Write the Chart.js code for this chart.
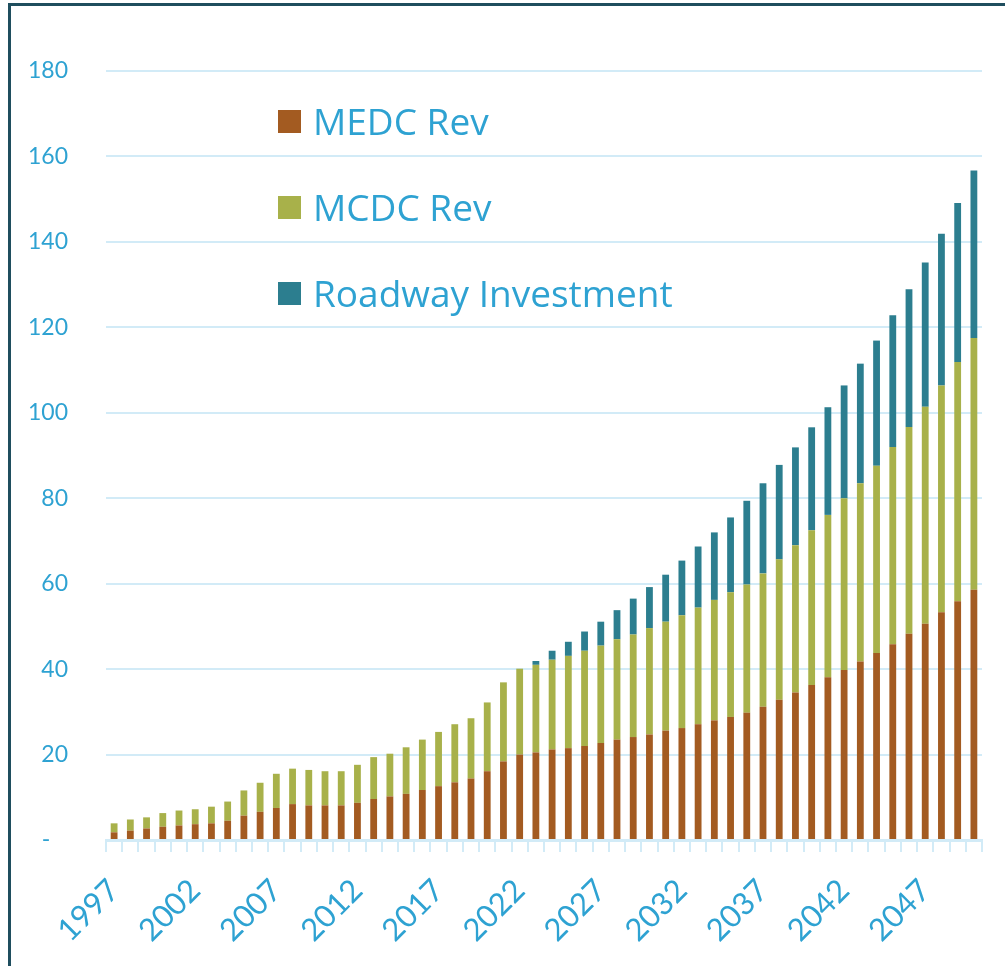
<!DOCTYPE html>
<html>
<head>
<meta charset="utf-8">
<title>Revenue Projection</title>
<script src="https://cdn.jsdelivr.net/npm/chart.js@4.4.0/dist/chart.umd.min.js"></script>
<style>
    html, body { margin: 0; padding: 0; background: #ffffff; }
    #wrap { position: relative; width: 1005px; height: 966px; overflow: hidden; }
    #frameTop { position: absolute; left: 8px; top: 3px; width: 1000px; height: 3px; background: #1f4e5e; }
    #frameLeft { position: absolute; left: 8px; top: 3px; width: 3px; height: 970px; background: #1f4e5e; }
    #legend { position: absolute; left: 278px; top: 95px; font-family: "Open Sans", Lato, sans-serif; }
    .item { position: absolute; left: 0; height: 40px; white-space: nowrap; display: flex; align-items: center; }
    .swatch { width: 23px; height: 23px; margin-right: 12px; }
    .label { font-size: 37px; color: #2ea2d2; line-height: 40px; }
</style>
</head>
<body>
<div id="wrap">
    <canvas id="revenueChart" width="1005" height="966"></canvas>
    <div id="frameTop"></div>
    <div id="frameLeft"></div>
    <div id="legend"></div>
</div>
<script>
// Years on the x axis
const years = [];
for (let y = 1997; y <= 2050; y++) years.push(String(y));

// Values (millions)
const medcRev = [1.8, 2.2, 2.7, 3.1, 3.4, 3.7, 3.9, 4.5, 5.7, 6.6,
    7.5, 8.4, 8.1, 8.1, 8.1, 8.7, 9.6, 10.2, 10.8, 11.7,
    12.6, 13.5, 14.4, 16.1, 18.4, 20.0, 20.5, 21.2, 21.5, 22.0,
    22.7, 23.5, 24.1, 24.7, 25.6, 26.2, 27.1, 28.0, 28.8, 29.8,
    31.2, 32.8, 34.5, 36.3, 38.1, 39.8, 41.8, 43.8, 45.8, 48.3,
    50.6, 53.3, 55.9, 58.6];

const mcdcRev = [2.1, 2.6, 2.6, 3.2, 3.5, 3.5, 3.9, 4.5, 5.9, 6.8,
    8.0, 8.3, 8.3, 8.0, 8.0, 8.9, 9.8, 10.0, 10.9, 11.8,
    12.7, 13.6, 14.1, 16.1, 18.5, 20.1, 20.5, 21.0, 21.6, 22.3,
    22.8, 23.5, 24.0, 24.9, 25.5, 26.4, 27.3, 28.2, 29.2, 30.0,
    31.2, 32.9, 34.5, 36.2, 38.0, 40.2, 41.7, 43.8, 46.2, 48.4,
    50.8, 53.1, 56.0, 58.9];

const roadwayInvestment = [0, 0, 0, 0, 0, 0, 0, 0, 0, 0,
    0, 0, 0, 0, 0, 0, 0, 0, 0, 0,
    0, 0, 0, 0, 0, 0, 0.9, 2.1, 3.3, 4.5,
    5.6, 6.8, 8.4, 9.6, 11.0, 12.8, 14.3, 15.8, 17.5, 19.6,
    21.1, 22.1, 22.9, 24.1, 25.2, 26.4, 28.0, 29.3, 30.8, 32.2,
    33.8, 35.5, 37.2, 39.2];

const yTicks = [0, 20, 40, 60, 80, 100, 120, 140, 160, 180];

const seriesNames = ['MEDC Rev', 'MCDC Rev', 'Roadway Investment'];
const seriesColors = ['#a35b21', '#a8b14a', '#2c7e8f'];

const textBlue = '#2ea2d2';
const gridBlue = '#d2ebf7';

document.addEventListener('DOMContentLoaded', function() {
    buildLegend();
    initRevenueChart();
});

// Legend sits inside the plot area, so it is plain html on top of the canvas
function buildLegend() {
    const legend = document.getElementById('legend');
    const rowTops = [6, 92, 178];
    seriesNames.forEach(function(name, i) {
        const item = document.createElement('div');
        item.className = 'item';
        item.style.top = rowTops[i] + 'px';
        item.innerHTML = '<span class="swatch" style="background:' + seriesColors[i] + '"></span>' +
            '<span class="label">' + name + '</span>';
        legend.appendChild(item);
    });
}

function initRevenueChart() {
    const ctx = document.getElementById('revenueChart').getContext('2d');

    const seriesData = [medcRev, mcdcRev, roadwayInvestment];

    window.revenueChart = new Chart(ctx, {
        type: 'bar',
        data: {
            labels: years,
            datasets: seriesData.map(function(values, i) {
                return {
                    label: seriesNames[i],
                    data: values,
                    backgroundColor: seriesColors[i],
                    borderWidth: 0,
                    barPercentage: 0.42,
                    categoryPercentage: 1.0
                };
            })
        },
        options: {
            responsive: false,
            animation: false,
            layout: {
                padding: { left: 8, right: 23, top: 71, bottom: 0 }
            },
            plugins: {
                legend: { display: false },
                tooltip: { enabled: false }
            },
            scales: {
                x: {
                    stacked: true,
                    offset: true,
                    grid: {
                        offset: true,
                        drawOnChartArea: false,
                        color: gridBlue,
                        lineWidth: 2,
                        tickLength: 12
                    },
                    border: { color: gridBlue, width: 3 },
                    ticks: {
                        autoSkip: false,
                        maxRotation: 45,
                        minRotation: 45,
                        padding: 20,
                        color: textBlue,
                        font: { family: 'Lato, "Noto Sans", sans-serif', size: 31 },
                        callback: function(value, index) {
                            return (index % 5 === 0) ? years[index] : '';
                        }
                    },
                    afterFit: function(scale) {
                        scale.height = 126;
                        scale.paddingLeft = 0;
                        scale.paddingRight = 0;
                    }
                },
                y: {
                    stacked: true,
                    min: 0,
                    max: 180,
                    afterBuildTicks: function(scale) {
                        scale.ticks = yTicks.map(function(v) { return { value: v }; });
                    },
                    grid: {
                        color: gridBlue,
                        lineWidth: 2,
                        drawTicks: false
                    },
                    border: { display: false },
                    ticks: {
                        padding: 38,
                        color: textBlue,
                        font: { family: 'Lato, "Noto Sans", sans-serif', size: 23 },
                        callback: function(value) {
                            return value === 0 ? '-   ' : value;
                        }
                    },
                    afterFit: function(scale) {
                        scale.width = 98;
                    }
                }
            }
        }
    });
}
</script>
</body>
</html>
